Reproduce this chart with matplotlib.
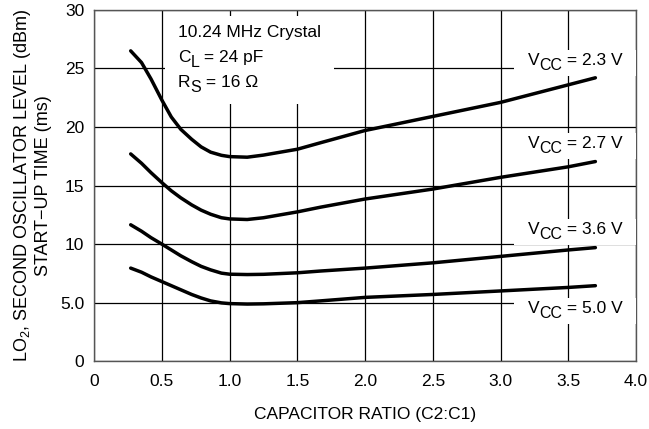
import matplotlib
matplotlib.use("Agg")
import matplotlib.pyplot as plt
from matplotlib.patches import Rectangle
from matplotlib.transforms import offset_copy, IdentityTransform, Bbox

plt.rcParams['font.family'] = ['Liberation Sans', 'DejaVu Sans']
plt.rcParams['mathtext.default'] = 'regular'

# capacitor ratio (C2:C1)
ratio = [0.27, 0.35, 0.42, 0.5, 0.57, 0.64, 0.72, 0.79, 0.86, 0.94,
         1.0, 1.13, 1.25, 1.5, 1.67, 2.0, 2.5, 3.0, 3.5, 3.7]

# start-up time (ms) for each supply voltage
vcc_23 = [26.5, 25.5, 24.1, 22.3, 20.85, 19.8, 18.95, 18.3, 17.85, 17.58,
          17.47, 17.42, 17.6, 18.1, 18.65, 19.7, 20.9, 22.1, 23.6, 24.2]
vcc_27 = [17.7, 16.9, 16.1, 15.25, 14.55, 13.95, 13.35, 12.9, 12.55, 12.25,
          12.15, 12.1, 12.25, 12.75, 13.15, 13.85, 14.7, 15.7, 16.6, 17.05]
vcc_36 = [11.65, 11.1, 10.55, 10.0, 9.5, 9.0, 8.5, 8.1, 7.8, 7.52,
          7.43, 7.4, 7.42, 7.55, 7.7, 7.95, 8.4, 8.95, 9.5, 9.7]
vcc_50 = [7.95, 7.6, 7.2, 6.8, 6.45, 6.1, 5.7, 5.4, 5.15, 4.98,
          4.92, 4.88, 4.9, 5.0, 5.15, 5.45, 5.7, 6.0, 6.3, 6.45]

vcc_values = ['2.3', '2.7', '3.6', '5.0']
label_y = [25.3, 18.2, 10.9, 4.1]

x_ticks = [0, 0.5, 1.0, 1.5, 2.0, 2.5, 3.0, 3.5, 4.0]
x_ticklabels = ['0', '0.5', '1.0', '1.5', '2.0', '2.5', '3.0', '3.5', '4.0']
y_ticks = [0, 5, 10, 15, 20, 25, 30]
y_ticklabels = ['0', '5.0', '10', '15', '20', '25', '30']

FS = 12.5
SUB = 11.5

fig = plt.figure(figsize=(6.49, 4.29), dpi=100)
ax = fig.add_axes([0.145, 0.158, 0.835, 0.819])
renderer = fig.canvas.get_renderer()

ax.set_xlim(0, 4.0)
ax.set_ylim(0, 30)


def rich_text(x, y, parts):
    # parts: (string, fontsize, vertical shift in pixels); returns the pixel bbox
    dx = 0
    boxes = []
    for s, size, dy in parts:
        tr = offset_copy(ax.transData, fig=fig, x=dx, y=dy, units='dots')
        t = ax.text(x, y, s, fontsize=size, ha='left', va='baseline',
                    transform=tr, zorder=5)
        bb = t.get_window_extent(renderer)
        boxes.append(bb)
        dx += bb.width
    return Bbox.union(boxes)


def white_box(bb, padx, pady):
    rect = Rectangle((bb.x0 - padx, bb.y0 - pady), bb.width + 2 * padx, bb.height + 2 * pady,
                     transform=IdentityTransform(), facecolor='white',
                     edgecolor='none', zorder=3)
    ax.add_artist(rect)
    rect.set_clip_path(ax.patch)


ax.set_axisbelow(True)
ax.grid(True, color='black', linewidth=0.9)

for serie in [vcc_23, vcc_27, vcc_36, vcc_50]:
    ax.plot(ratio, serie, color='black', linewidth=2.5, solid_capstyle='round', zorder=4)

ax.set_xticks(x_ticks)
ax.set_xticklabels(x_ticklabels)
ax.set_yticks(y_ticks)
ax.set_yticklabels(y_ticklabels)
ax.tick_params(length=0, labelsize=FS, pad=7)
ax.tick_params(axis='x', pad=9)

for s in ax.spines.values():
    s.set_color('#555555')
    s.set_linewidth(1.0)

ax.set_xlabel('CAPACITOR RATIO (C2:C1)', fontsize=FS, labelpad=13)
ax.set_ylabel('LO$_{2}$, SECOND OSCILLATOR LEVEL (dBm)\nSTART\u2212UP TIME (ms)',
              fontsize=13, linespacing=1.15, labelpad=6)

# crystal info
b1 = rich_text(0.62, 27.7, [('10.24 MHz Crystal', FS, 0)])
b2 = rich_text(0.62, 25.55, [('C', FS, 0), ('L', SUB, -5), (' = 24 pF', FS, 0)])
b3 = rich_text(0.62, 23.4, [('R', FS, 0), ('S', SUB, -5), (' = 16 \u03a9', FS, 0)])
white_box(Bbox.union([b1, b2, b3]), 13, 9)

# supply voltage labels
for val, yy in zip(vcc_values, label_y):
    bb = rich_text(3.2, yy, [('V', FS, 0), ('CC', SUB, -5), (' = ' + val + ' V', FS, 0)])
    white_box(bb, 14, 3)

fig.savefig('out.png', dpi=100)
